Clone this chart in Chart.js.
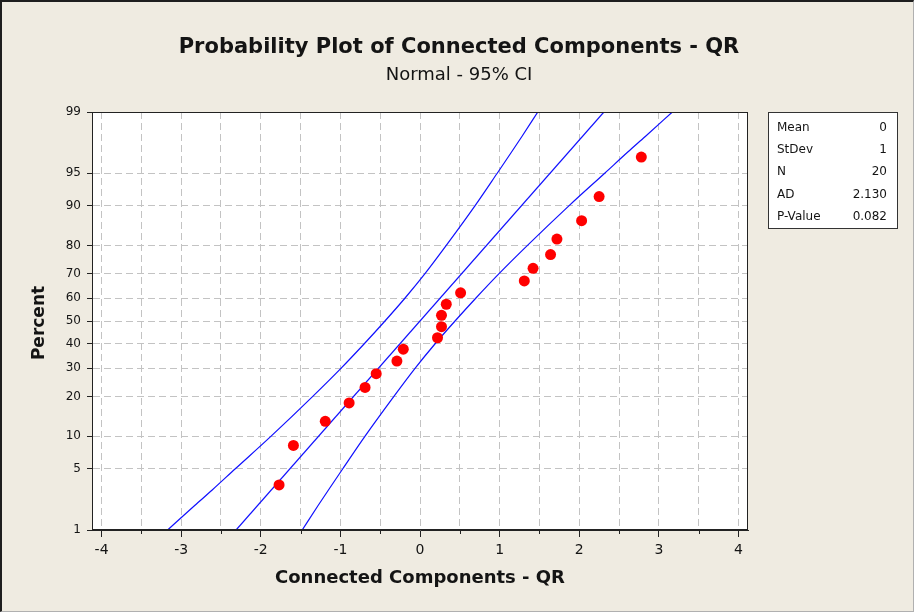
<!DOCTYPE html>
<html>
<head>
<meta charset="utf-8">
<script src="https://cdn.jsdelivr.net/npm/chart.js@4/dist/chart.umd.min.js"></script>
<style>
  body { margin: 0; background: #ffffff; }
  .frame {
    position: absolute; left: 0; top: 0; width: 914px; height: 612px;
    box-sizing: border-box; background: #efebe1;
    border-top: 2px solid #1e1e1e; border-left: 2px solid #1e1e1e;
    border-right: 1px solid #b0b0b0; border-bottom: 1px solid #b0b0b0;
  }
  canvas { position: absolute; left: 0; top: 0; }
</style>
</head>
<body>
<div class="frame"></div>
<canvas id="chart" width="918" height="614"></canvas>
<script>
'use strict';

// observations and their plotting positions (percent)
const obsX = [-1.77, -1.59, -1.19, -0.89, -0.69, -0.55, -0.29, -0.21, 0.22, 0.27,
  0.27, 0.33, 0.51, 1.31, 1.42, 1.64, 1.72, 2.03, 2.25, 2.78];
const obsPct = [3.4, 8.3, 13.2, 18.1, 23.0, 27.9, 32.8, 37.7, 42.6, 47.5,
  52.5, 57.4, 62.3, 67.2, 72.1, 77.0, 81.9, 86.8, 91.7, 96.6];

// 95% CI bands, read at percent levels
const bandPct = [1, 2, 3, 5, 10, 20, 30, 40, 50, 60, 70, 80, 90, 95, 97, 98, 99];
const bandLow = [-3.17, -2.83, -2.61, -2.32, -1.87, -1.35, -0.99, -0.70, -0.44, -0.19, 0.06, 0.33, 0.69, 0.97, 1.15, 1.28, 1.48];
const bandHigh = [-1.48, -1.28, -1.15, -0.97, -0.69, -0.33, -0.06, 0.19, 0.44, 0.70, 0.99, 1.35, 1.87, 2.32, 2.61, 2.83, 3.17];

// fitted line
const fitPct = [1, 99];
const fitX = [-2.31, 2.31];

const yTickPct = [1, 5, 10, 20, 30, 40, 50, 60, 70, 80, 90, 95, 99];
const xTicks = [-4, -3.5, -3, -2.5, -2, -1.5, -1, -0.5, 0, 0.5, 1, 1.5, 2, 2.5, 3, 3.5, 4];

const statLabels = ['Mean', 'StDev', 'N', 'AD', 'P-Value'];
const statValues = ['0', '1', '20', '2.130', '0.082'];

const FONT = "'DejaVu Sans', sans-serif";
const INK = '#141414';

// inverse normal cdf (probability scale)
const probit = function (p) {
  const a = [-39.69683028665376, 220.9460984245205, -275.9285104469687, 138.357751867269, -30.66479806614716, 2.506628277459239];
  const b = [-54.47609879822406, 161.5858368580409, -155.6989798598866, 66.80131188771972, -13.28068155288572];
  const c = [-0.007784894002430293, -0.3223964580411365, -2.400758277161838, -2.549732539343734, 4.374664141464968, 2.938163982698783];
  const d = [0.007784695709041462, 0.3224671290700398, 2.445134137142996, 3.754408661907416];
  const tail = q => (((((c[0] * q + c[1]) * q + c[2]) * q + c[3]) * q + c[4]) * q + c[5]) /
    ((((d[0] * q + d[1]) * q + d[2]) * q + d[3]) * q + 1);
  if (p < 0.02425) return tail(Math.sqrt(-2 * Math.log(p)));
  if (p > 1 - 0.02425) return -tail(Math.sqrt(-2 * Math.log(1 - p)));
  const q = p - 0.5;
  const r = q * q;
  return (((((a[0] * r + a[1]) * r + a[2]) * r + a[3]) * r + a[4]) * r + a[5]) * q /
    (((((b[0] * r + b[1]) * r + b[2]) * r + b[3]) * r + b[4]) * r + 1);
};

const toPoints = (xs, pcts) => xs.map((x, i) => ({ x: x, y: probit(pcts[i] / 100) }));

const lineSet = (data) => ({
  data: data,
  showLine: true,
  borderColor: '#1010ff',
  borderWidth: 1.2,
  pointRadius: 0,
  cubicInterpolationMode: 'monotone',
  fill: false,
  order: 1,
});

const decor = {
  id: 'decor',
  beforeDraw(chart) {
    const { ctx, chartArea: a } = chart;
    ctx.save();
    ctx.fillStyle = '#ffffff';
    ctx.fillRect(a.left, a.top, a.right - a.left, a.bottom - a.top);
    ctx.restore();
  },
  afterDraw(chart) {
    const { ctx, chartArea: a } = chart;
    const xs = chart.scales.x;
    ctx.save();
    ctx.strokeStyle = '#222';
    ctx.lineWidth = 1;
    ctx.strokeRect(a.left + 0.5, a.top + 0.5, a.right - a.left - 1, a.bottom - a.top - 1);

    // minor ticks on x
    xTicks.filter(v => !Number.isInteger(v)).forEach(v => {
      const px = Math.round(xs.getPixelForValue(v)) + 0.5;
      ctx.beginPath();
      ctx.moveTo(px, a.bottom);
      ctx.lineTo(px, a.bottom + 4);
      ctx.stroke();
    });

    ctx.fillStyle = INK;
    ctx.textAlign = 'center';
    ctx.textBaseline = 'middle';
    ctx.font = 'bold 21px ' + FONT;
    ctx.fillText('Probability Plot of Connected Components - QR', 459, 48);
    ctx.font = '18px ' + FONT;
    ctx.fillText('Normal - 95% CI', 459, 75);
    ctx.font = 'bold 18px ' + FONT;
    ctx.fillText('Connected Components - QR', (a.left + a.right) / 2, 578);
    ctx.save();
    ctx.translate(40, 323);
    ctx.rotate(-Math.PI / 2);
    ctx.font = 'bold 17px ' + FONT;
    ctx.fillText('Percent', 0, 0);
    ctx.restore();

    // stats box
    ctx.fillStyle = '#ffffff';
    ctx.fillRect(768, 112, 130, 117);
    ctx.strokeStyle = '#333';
    ctx.strokeRect(768.5, 112.5, 129, 116);
    ctx.fillStyle = INK;
    ctx.font = '12px ' + FONT;
    statLabels.forEach((s, i) => {
      const y = 127.5 + i * 22.3;
      ctx.textAlign = 'left';
      ctx.fillText(s, 777, y);
      ctx.textAlign = 'right';
      ctx.fillText(statValues[i], 887, y);
    });
    ctx.restore();
  },
};

const ctx = document.getElementById('chart').getContext('2d');

new Chart(ctx, {
  type: 'scatter',
  data: {
    datasets: [
      {
        data: toPoints(obsX, obsPct),
        backgroundColor: '#ff0000',
        borderWidth: 0,
        pointRadius: 5.5,
        order: 0,
      },
      lineSet(toPoints(bandLow, bandPct)),
      lineSet(toPoints(fitX, fitPct)),
      lineSet(toPoints(bandHigh, bandPct)),
    ],
  },
  options: {
    responsive: false,
    animation: false,
    layout: { padding: { left: 40, right: 170, top: 112, bottom: 44 } },
    plugins: {
      legend: { display: false },
      tooltip: { enabled: false },
    },
    scales: {
      x: {
        type: 'linear',
        min: -4.12,
        max: 4.12,
        afterBuildTicks: s => {
          s.ticks = xTicks.map(v => ({ value: v }));
        },
        afterFit: s => {
          s.height = 40;
        },
        ticks: {
          autoSkip: false,
          maxRotation: 0,
          padding: 5,
          color: INK,
          font: { family: FONT, size: 14 },
          callback: v => (Number.isInteger(v) ? String(v) : ''),
        },
        grid: {
          color: '#c3c3c3',
          lineWidth: 1,
          tickLength: 7,
          tickBorderDash: [],
          tickColor: c => (c.tick && Number.isInteger(c.tick.value) ? '#222' : 'rgba(0,0,0,0)'),
        },
        border: { display: true, color: '#222', width: 1, dash: [7, 4] },
      },
      y: {
        type: 'linear',
        min: probit(0.01),
        max: probit(0.99),
        afterBuildTicks: s => {
          s.ticks = yTickPct.map(p => ({ value: probit(p / 100) }));
        },
        afterFit: s => {
          s.width = 52;
        },
        ticks: {
          autoSkip: false,
          padding: 6,
          color: INK,
          font: { family: FONT, size: 12 },
          callback: (v, i) => String(yTickPct[i]),
        },
        grid: {
          color: '#c3c3c3',
          lineWidth: 1,
          tickLength: 5,
          tickBorderDash: [],
          tickColor: '#222',
        },
        border: { display: true, color: '#222', width: 1, dash: [7, 4] },
      },
    },
  },
  plugins: [decor],
});
</script>
</body>
</html>
